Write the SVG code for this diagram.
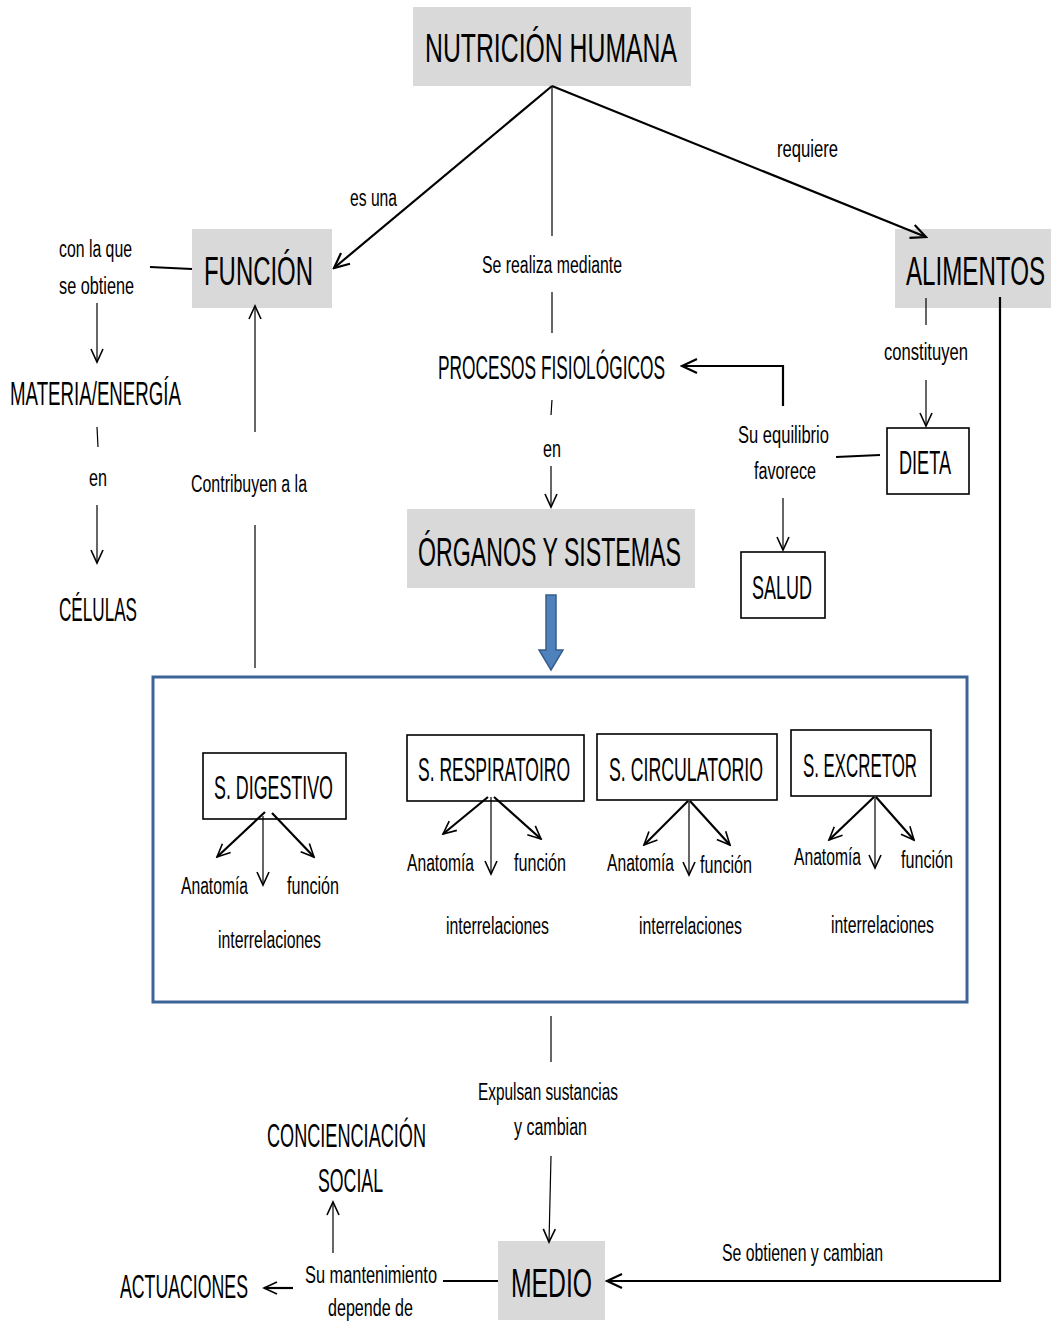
<svg xmlns="http://www.w3.org/2000/svg" width="1051" height="1324" viewBox="0 0 1051 1324">
  <style>
    text { font-family: "Liberation Sans Narrow", "Liberation Sans", Arial, sans-serif; fill: #000; }
    .lg { font-size: 41px; }
    .md { font-size: 33px; }
    .sm { font-size: 23px; }
    .gray { fill: #d9d9d9; stroke: none; }
    .box { fill: #fff; stroke: #000; stroke-width: 1.6; }
    .thin { fill: none; stroke: #000; stroke-width: 1.2; }
    .thick { fill: none; stroke: #000; stroke-width: 2.2; }
  </style>
  <defs>
    <marker id="arr" markerUnits="userSpaceOnUse" markerWidth="18" markerHeight="18" viewBox="0 0 18 18" refX="16" refY="9" orient="auto">
      <path d="M3,3 L16,9 L3,15" fill="none" stroke="#000" stroke-width="1.6"/>
    </marker>
    <marker id="arrB" markerUnits="userSpaceOnUse" markerWidth="20" markerHeight="20" viewBox="0 0 20 20" refX="18" refY="10" orient="auto">
      <path d="M3,3 L18,10 L3,17" fill="none" stroke="#000" stroke-width="2.2"/>
    </marker>
  </defs>

  <rect width="1051" height="1324" fill="#fff"/>

  <!-- systems panel (behind everything else) -->
  <g id="sistemas">
    <rect x="153" y="677" width="814" height="325" fill="#fff" stroke="#3c6496" stroke-width="3"/>
  </g>

  <!-- nodes -->
  <g id="nutricion">
    <rect class="gray" x="413" y="7" width="278" height="79"/>
    <text class="lg" x="425" y="62" textLength="252" lengthAdjust="spacingAndGlyphs">NUTRICIÓN HUMANA</text>
  </g>
  <g id="funcion">
    <rect class="gray" x="192" y="229" width="140" height="79"/>
    <text class="lg" x="204" y="285" textLength="109" lengthAdjust="spacingAndGlyphs">FUNCIÓN</text>
  </g>
  <g id="alimentos">
    <rect class="gray" x="895" y="229" width="156" height="79"/>
    <text class="lg" x="906" y="285" textLength="139" lengthAdjust="spacingAndGlyphs">ALIMENTOS</text>
  </g>
  <g id="organos">
    <rect class="gray" x="407" y="509" width="288" height="79"/>
    <text class="lg" x="418" y="566" textLength="263" lengthAdjust="spacingAndGlyphs">ÓRGANOS Y SISTEMAS</text>
  </g>
  <g id="medio">
    <rect class="gray" x="498" y="1241" width="107" height="79"/>
    <text class="lg" x="511" y="1297" textLength="81" lengthAdjust="spacingAndGlyphs">MEDIO</text>
  </g>

  <g id="procesos">
    <text class="md" x="438" y="379" textLength="227" lengthAdjust="spacingAndGlyphs">PROCESOS FISIOLÓGICOS</text>
  </g>
  <g id="materia">
    <text class="md" x="10" y="405" textLength="171" lengthAdjust="spacingAndGlyphs">MATERIA/ENERGÍA</text>
  </g>
  <g id="celulas">
    <text class="md" x="59" y="621" textLength="78" lengthAdjust="spacingAndGlyphs">CÉLULAS</text>
  </g>
  <g id="dieta">
    <rect class="box" x="887" y="428" width="82" height="66"/>
    <text class="md" x="899" y="474" textLength="52" lengthAdjust="spacingAndGlyphs">DIETA</text>
  </g>
  <g id="salud">
    <rect class="box" x="741" y="552" width="84" height="66"/>
    <text class="md" x="752" y="599" textLength="60" lengthAdjust="spacingAndGlyphs">SALUD</text>
  </g>
  <g id="concienciacion">
    <text class="md" x="267" y="1147" textLength="159" lengthAdjust="spacingAndGlyphs">CONCIENCIACIÓN</text>
    <text class="md" x="318" y="1192" textLength="65" lengthAdjust="spacingAndGlyphs">SOCIAL</text>
  </g>
  <g id="actuaciones">
    <text class="md" x="120" y="1298" textLength="128" lengthAdjust="spacingAndGlyphs">ACTUACIONES</text>
  </g>

  <g id="digestivo">
    <rect class="box" x="203" y="753" width="143" height="66"/>
    <text class="md" x="214" y="799" textLength="119" lengthAdjust="spacingAndGlyphs">S. DIGESTIVO</text>
    <text class="sm" x="181" y="894" textLength="67" lengthAdjust="spacingAndGlyphs">Anatomía</text>
    <text class="sm" x="287" y="894" textLength="52" lengthAdjust="spacingAndGlyphs">función</text>
    <text class="sm" x="218" y="948" textLength="103" lengthAdjust="spacingAndGlyphs">interrelaciones</text>
  </g>
  <g id="respiratorio">
    <rect class="box" x="407" y="735" width="177" height="66"/>
    <text class="md" x="418" y="781" textLength="152" lengthAdjust="spacingAndGlyphs">S. RESPIRATOIRO</text>
    <text class="sm" x="407" y="871" textLength="67" lengthAdjust="spacingAndGlyphs">Anatomía</text>
    <text class="sm" x="514" y="871" textLength="52" lengthAdjust="spacingAndGlyphs">función</text>
    <text class="sm" x="446" y="934" textLength="103" lengthAdjust="spacingAndGlyphs">interrelaciones</text>
  </g>
  <g id="circulatorio">
    <rect class="box" x="597" y="734" width="180" height="66"/>
    <text class="md" x="609" y="781" textLength="154" lengthAdjust="spacingAndGlyphs">S. CIRCULATORIO</text>
    <text class="sm" x="607" y="871" textLength="67" lengthAdjust="spacingAndGlyphs">Anatomía</text>
    <text class="sm" x="700" y="873" textLength="52" lengthAdjust="spacingAndGlyphs">función</text>
    <text class="sm" x="639" y="934" textLength="103" lengthAdjust="spacingAndGlyphs">interrelaciones</text>
  </g>
  <g id="excretor">
    <rect class="box" x="791" y="730" width="140" height="66"/>
    <text class="md" x="803" y="777" textLength="114" lengthAdjust="spacingAndGlyphs">S. EXCRETOR</text>
    <text class="sm" x="794" y="865" textLength="67" lengthAdjust="spacingAndGlyphs">Anatomía</text>
    <text class="sm" x="901" y="868" textLength="52" lengthAdjust="spacingAndGlyphs">función</text>
    <text class="sm" x="831" y="933" textLength="103" lengthAdjust="spacingAndGlyphs">interrelaciones</text>
  </g>

  <!-- connector labels -->
  <g id="labels">
    <text class="sm" x="350" y="206" textLength="47" lengthAdjust="spacingAndGlyphs">es una</text>
    <text class="sm" x="777" y="157" textLength="61" lengthAdjust="spacingAndGlyphs">requiere</text>
    <text class="sm" x="59" y="257" textLength="73" lengthAdjust="spacingAndGlyphs">con la que</text>
    <text class="sm" x="59" y="294" textLength="75" lengthAdjust="spacingAndGlyphs">se obtiene</text>
    <text class="sm" x="482" y="273" textLength="140" lengthAdjust="spacingAndGlyphs">Se realiza mediante</text>
    <text class="sm" x="543" y="457" textLength="18" lengthAdjust="spacingAndGlyphs">en</text>
    <text class="sm" x="89" y="486" textLength="18" lengthAdjust="spacingAndGlyphs">en</text>
    <text class="sm" x="191" y="492" textLength="116" lengthAdjust="spacingAndGlyphs">Contribuyen a la</text>
    <text class="sm" x="884" y="360" textLength="84" lengthAdjust="spacingAndGlyphs">constituyen</text>
    <text class="sm" x="738" y="443" textLength="91" lengthAdjust="spacingAndGlyphs">Su equilibrio</text>
    <text class="sm" x="754" y="479" textLength="62" lengthAdjust="spacingAndGlyphs">favorece</text>
    <text class="sm" x="478" y="1100" textLength="140" lengthAdjust="spacingAndGlyphs">Expulsan sustancias</text>
    <text class="sm" x="514" y="1135" textLength="73" lengthAdjust="spacingAndGlyphs">y cambian</text>
    <text class="sm" x="722" y="1261" textLength="161" lengthAdjust="spacingAndGlyphs">Se obtienen y cambian</text>
    <text class="sm" x="305" y="1283" textLength="132" lengthAdjust="spacingAndGlyphs">Su mantenimiento</text>
    <text class="sm" x="328" y="1316" textLength="85" lengthAdjust="spacingAndGlyphs">depende de</text>
  </g>

  <!-- connectors -->
  <g id="connectors">
    <line class="thick" x1="552" y1="86" x2="334" y2="268" marker-end="url(#arrB)"/>
    <line class="thick" x1="552" y1="86" x2="926" y2="237" marker-end="url(#arrB)"/>
    <line class="thin" x1="552" y1="86" x2="552" y2="236"/>
    <line class="thin" x1="552" y1="292" x2="552" y2="333"/>
    <line class="thin" x1="552" y1="400" x2="551" y2="415"/>
    <line class="thin" x1="551" y1="466" x2="551" y2="507" marker-end="url(#arr)"/>

    <line class="thick" x1="150" y1="267" x2="192" y2="269"/>
    <line class="thin" x1="97" y1="303" x2="97" y2="362" marker-end="url(#arr)"/>
    <line class="thin" x1="97" y1="427" x2="98" y2="447"/>
    <line class="thin" x1="97" y1="505" x2="97" y2="563" marker-end="url(#arr)"/>

    <line class="thin" x1="255" y1="432" x2="255" y2="306" marker-end="url(#arr)"/>
    <line class="thin" x1="255" y1="525" x2="255" y2="668"/>

    <line class="thin" x1="926" y1="298" x2="926" y2="325"/>
    <line class="thin" x1="926" y1="380" x2="926" y2="426" marker-end="url(#arr)"/>
    <line class="thick" x1="836" y1="457" x2="880" y2="455"/>
    <polyline class="thick" points="783,406 783,366 682,366" marker-end="url(#arrB)"/>
    <line class="thin" x1="783" y1="498" x2="783" y2="550" marker-end="url(#arr)"/>

    <polyline class="thick" points="1000,297 1000,1281 607,1281" marker-end="url(#arrB)"/>

    <line class="thin" x1="551" y1="1016" x2="551" y2="1062"/>
    <line class="thin" x1="551" y1="1156" x2="549" y2="1242" marker-end="url(#arr)"/>
    <line class="thick" x1="443" y1="1281" x2="498" y2="1281"/>
    <line class="thick" x1="293" y1="1288" x2="264" y2="1288" marker-end="url(#arr)"/>
    <line class="thin" x1="333" y1="1253" x2="333" y2="1202" marker-end="url(#arr)"/>

    <!-- systems fan-out -->
    <line class="thick" x1="265" y1="812" x2="217" y2="857" marker-end="url(#arr)"/>
    <line class="thin" x1="263" y1="816" x2="263" y2="885" marker-end="url(#arr)"/>
    <line class="thick" x1="272" y1="813" x2="314" y2="857" marker-end="url(#arr)"/>

    <line class="thick" x1="488" y1="797" x2="443" y2="834" marker-end="url(#arr)"/>
    <line class="thin" x1="491" y1="797" x2="491" y2="874" marker-end="url(#arr)"/>
    <line class="thick" x1="494" y1="797" x2="541" y2="839" marker-end="url(#arr)"/>

    <line class="thick" x1="688" y1="801" x2="644" y2="845" marker-end="url(#arr)"/>
    <line class="thin" x1="689" y1="801" x2="689" y2="875" marker-end="url(#arr)"/>
    <line class="thick" x1="690" y1="801" x2="730" y2="845" marker-end="url(#arr)"/>

    <line class="thick" x1="874" y1="797" x2="829" y2="840" marker-end="url(#arr)"/>
    <line class="thin" x1="875" y1="797" x2="875" y2="868" marker-end="url(#arr)"/>
    <line class="thick" x1="876" y1="797" x2="914" y2="840" marker-end="url(#arr)"/>

    <!-- block arrow into the systems panel -->
    <polygon points="546,595 556,595 556,650 563,650 551,670 539,650 546,650" fill="#4f81bd" stroke="#385d8a" stroke-width="1.5"/>
  </g>
</svg>
